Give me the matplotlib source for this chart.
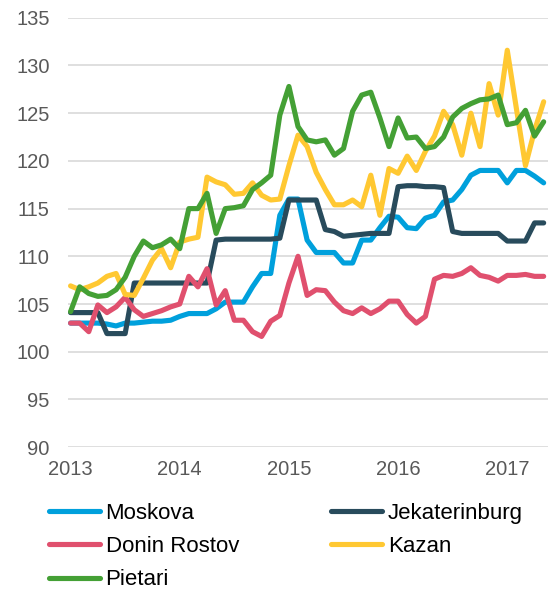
import matplotlib.pyplot as plt
import numpy as np

plt.rcParams.update({
    "font.family": ["Liberation Sans", "DejaVu Sans"],
    "axes.spines.top": False,
    "axes.spines.right": False,
    "axes.spines.left": False,
    "axes.spines.bottom": False,
})

# monthly index values, Jan 2013 .. May 2017
moskova = [103.0, 103.0, 103.0, 103.0, 102.9, 102.7, 103.0, 103.0, 103.1, 103.2,
           103.2, 103.3, 103.7, 104.0, 104.0, 104.0, 104.5, 105.2, 105.2, 105.2,
           106.8, 108.2, 108.2, 114.3, 116.0, 116.0, 111.7, 110.4, 110.4, 110.4,
           109.3, 109.3, 111.7, 111.7, 113.0, 114.2, 114.1, 113.0, 112.9, 114.0,
           114.3, 115.7, 115.9, 117.0, 118.5, 119.0, 119.0, 119.0, 117.7, 119.0,
           119.0, 118.4, 117.7]
jekaterinburg = [104.1, 104.1, 104.1, 104.1, 101.9, 101.9, 101.9, 107.2, 107.2, 107.2,
                 107.2, 107.2, 107.2, 107.2, 107.2, 107.2, 111.7, 111.8, 111.8, 111.8,
                 111.8, 111.8, 111.8, 111.9, 115.9, 115.9, 115.9, 115.9, 112.8, 112.6,
                 112.1, 112.2, 112.3, 112.4, 112.4, 112.4, 117.3, 117.4, 117.4, 117.3,
                 117.3, 117.2, 112.6, 112.4, 112.4, 112.4, 112.4, 112.4, 111.6, 111.6,
                 111.6, 113.5, 113.5]
donin_rostov = [103.0, 103.0, 102.1, 104.9, 104.1, 104.7, 105.7, 104.4, 103.7, 104.0,
                104.3, 104.7, 105.0, 107.9, 106.8, 108.7, 104.9, 106.4, 103.3, 103.3,
                102.1, 101.6, 103.2, 103.8, 107.2, 110.0, 105.9, 106.5, 106.4, 105.2,
                104.3, 104.0, 104.6, 104.0, 104.5, 105.3, 105.3, 103.9, 103.0, 103.7,
                107.6, 108.0, 107.9, 108.2, 108.8, 108.0, 107.8, 107.4, 108.0, 108.0,
                108.1, 107.9, 107.9]
kazan = [106.9, 106.5, 106.8, 107.2, 107.9, 108.2, 106.0, 105.9, 107.7, 109.6,
         110.8, 108.8, 111.5, 111.8, 112.0, 118.3, 117.8, 117.5, 116.5, 116.6,
         117.7, 116.4, 115.9, 116.0, 119.5, 122.7, 121.5, 118.8, 117.0, 115.4,
         115.4, 115.9, 115.2, 118.5, 114.3, 119.2, 118.7, 120.5, 119.0, 121.0,
         122.6, 125.2, 123.8, 120.6, 125.0, 121.5, 128.1, 124.8, 131.6, 125.5,
         119.5, 123.2, 126.2]
pietari = [104.2, 106.8, 106.1, 105.8, 105.9, 106.5, 107.8, 110.0, 111.6, 110.9,
           111.2, 111.8, 110.8, 115.0, 115.0, 116.6, 112.4, 115.0, 115.1, 115.3,
           117.0, 117.7, 118.5, 124.8, 127.8, 123.6, 122.2, 122.0, 122.2, 120.6,
           121.3, 125.2, 126.9, 127.2, 124.5, 121.5, 124.5, 122.4, 122.5, 121.3,
           121.5, 122.5, 124.6, 125.5, 126.0, 126.4, 126.5, 126.9, 123.8, 124.0,
           125.3, 122.6, 124.1]

years = ["2013", "2014", "2015", "2016", "2017"]
y_ticks = [90, 95, 100, 105, 110, 115, 120, 125, 130, 135]

COLORS = {
    "Moskova": "#00A0DC",
    "Jekaterinburg": "#284B5C",
    "Donin Rostov": "#E0506E",
    "Kazan": "#FFC832",
    "Pietari": "#44A035",
}

fig = plt.figure(figsize=(5.56, 5.93), dpi=100)
ax = fig.add_axes([0.122, 0.246, 0.864, 0.724])

x = np.arange(len(moskova))
series = [
    ("Moskova", moskova),
    ("Jekaterinburg", jekaterinburg),
    ("Donin Rostov", donin_rostov),
    ("Kazan", kazan),
    ("Pietari", pietari),
]
handles = {}
for name, vals in series:
    (ln,) = ax.plot(x, vals, color=COLORS[name], linewidth=3.7,
                    solid_capstyle="round", solid_joinstyle="round", label=name)
    handles[name] = ln

ax.set_ylim(90, 135)
ax.set_xlim(-0.3, len(moskova) - 1 + 0.5)
ax.set_yticks(y_ticks)
ax.set_xticks(np.arange(len(years)) * 12)
ax.set_xticklabels(years)
ax.tick_params(axis="both", length=0, labelsize=14.5, labelcolor="#595959")
ax.tick_params(axis="y", pad=13)
ax.tick_params(axis="x", pad=9)
ax.grid(axis="y", color="#d9d9d9", linewidth=1.2)
ax.set_axisbelow(True)

# legend: column-first fill, so order gives rows Moskova/Jekaterinburg, ...
order = ["Moskova", "Donin Rostov", "Pietari", "Jekaterinburg", "Kazan"]
fig.legend([handles[n] for n in order], order, ncol=2, frameon=False,
           loc="upper left", bbox_to_anchor=(0.088, 0.152),
           fontsize=16, handlelength=2.3, handletextpad=0.25,
           columnspacing=4.15, labelspacing=0.55, borderpad=0, borderaxespad=0)

plt.savefig("out.png", dpi=100)
